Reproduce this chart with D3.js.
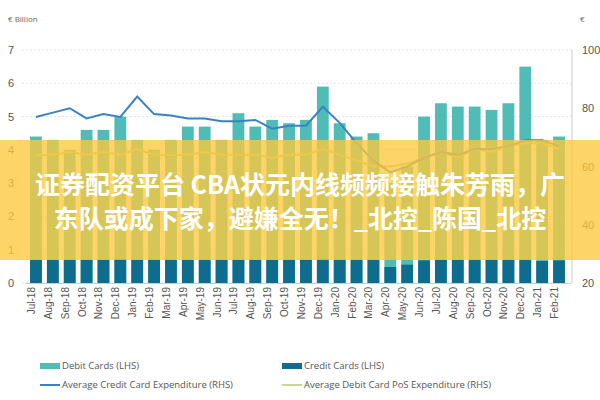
<!DOCTYPE html><html><head><meta charset="utf-8"><script src="https://cdn.jsdelivr.net/npm/d3@7"></script>
<style>body{margin:0;background:#fff}svg{font-family:"Open Sans",sans-serif}</style></head><body><svg id="c" width="600" height="400"></svg>
<script>
const months=["Jul-18","Aug-18","Sep-18","Oct-18","Nov-18","Dec-18","Jan-19","Feb-19","Mar-19","Apr-19","May-19","Jun-19","Jul-19","Aug-19","Sep-19","Oct-19","Nov-19","Dec-19","Jan-20","Feb-20","Mar-20","Apr-20","May-20","Jun-20","Jul-20","Aug-20","Sep-20","Oct-20","Nov-20","Dec-20","Jan-21","Feb-21"];
const debitCards=[4.4,4.3,4.0,4.6,4.6,5.0,4.3,4.0,4.3,4.7,4.7,4.3,5.1,4.7,4.9,4.8,4.9,5.9,4.8,4.4,4.5,3.0,3.5,5.0,5.4,5.3,5.3,5.2,5.4,6.5,4.3,4.4];
const creditCards=[0.7,0.7,0.7,0.7,0.7,0.72,0.7,0.7,0.7,0.7,0.7,0.7,0.7,0.7,0.7,0.7,0.7,0.72,0.7,0.7,0.7,0.48,0.55,0.68,0.7,0.7,0.7,0.7,0.7,0.7,0.66,0.68];
const avgCredit=[77,78.5,80,76.5,78,77,84,78,77.5,76.5,76.5,75.5,75.5,76,73,74,74,80.5,75,68,62,58,60,63,65,64,66,66,67,69,69,67];
const avgDebit=[64,64,65,64,65,64,66,64,64,64,65,64,64,64,63,64,64,66,64,62,60,60,61,63,65,63,66,65,67,68,68,66];
const leftTicks=[0,1,2,3,4,5,6,7];
const rightTicks=[20,40,60,80,100];
const svg=d3.select("#c");
const m={l:22,r:30,t:50,b:283};
const x=d3.scaleBand().domain(months).range([m.l+3,570]).padding(0.3);
const yL=d3.scaleLinear().domain([0,7]).range([m.b,m.t]);
const yR=d3.scaleLinear().domain([20,100]).range([m.b,m.t]);
const g=svg.append("g");
leftTicks.forEach(t=>{g.append("line").attr("x1",22).attr("x2",572).attr("y1",yL(t)).attr("y2",yL(t)).attr("stroke","#e6e6e6").attr("stroke-dasharray","2,2");});
const ax=svg.append("g").attr("transform",`translate(18,0)`).call(d3.axisLeft(yL).tickValues(leftTicks).tickFormat(d3.format("d")).tickSize(0).tickPadding(4));
const ar=svg.append("g").attr("transform",`translate(576,0)`).call(d3.axisRight(yR).tickValues(rightTicks).tickSize(0).tickPadding(6));
[ax,ar].forEach(a=>{a.select(".domain").remove();a.selectAll("text").attr("fill","#555").attr("font-size",11);});
svg.append("line").attr("x1",572).attr("x2",572).attr("y1",m.t).attr("y2",m.b).attr("stroke","#ccc");
svg.append("text").attr("x",8).attr("y",22).text("€ Billion").attr("font-size",8).attr("fill","#666");
svg.append("text").attr("x",580).attr("y",22).text("€").attr("font-size",8).attr("fill","#666");
g.selectAll(".d").data(months).join("rect").attr("x",d=>x(d)).attr("width",x.bandwidth()).attr("y",(d,i)=>yL(debitCards[i])).attr("height",(d,i)=>yL(0)-yL(debitCards[i])).attr("fill","#4fbdb5");
g.selectAll(".c").data(months).join("rect").attr("x",d=>x(d)).attr("width",x.bandwidth()).attr("y",(d,i)=>yL(creditCards[i])).attr("height",(d,i)=>yL(0)-yL(creditCards[i])).attr("fill","#0e6d8e");
const cx=d=>x(d)+x.bandwidth()/2;
svg.append("path").datum(months).attr("d",d3.line().x(cx).y((d,i)=>yR(avgDebit[i]))).attr("fill","none").attr("stroke","#b8c978").attr("stroke-width",2);
svg.append("path").datum(months).attr("d",d3.line().x(cx).y((d,i)=>yR(avgCredit[i]))).attr("fill","none").attr("stroke","#3b82c4").attr("stroke-width",2);
const xa=svg.append("g").attr("transform",`translate(0,${m.b})`).call(d3.axisBottom(x).tickSize(0).tickPadding(4));
xa.select(".domain").attr("stroke","#ccc");
xa.selectAll("text").attr("transform","rotate(-90)").attr("text-anchor","end").attr("dx","-4").attr("dy","-0.5em").attr("font-size",10).attr("fill","#555");
const lg=[["Debit Cards (LHS)","#4fbdb5","rect",40,366],["Credit Cards (LHS)","#0e6d8e","rect",282,366],["Average Credit Card Expenditure (RHS)","#3b82c4","line",40,385],["Average Debit Card PoS Expenditure (RHS)","#c8d890","line",282,385]];
lg.forEach(([t,c,k,lx,ly])=>{if(k=="rect")svg.append("rect").attr("x",lx).attr("y",ly-3).attr("width",20).attr("height",6).attr("fill",c);else svg.append("line").attr("x1",lx).attr("x2",lx+20).attr("y1",ly).attr("y2",ly).attr("stroke",c).attr("stroke-width",2);svg.append("text").attr("x",lx+22).attr("y",ly+3).text(t).attr("font-size",9.5).attr("fill","#555");});
svg.append("rect").attr("x",0).attr("y",140).attr("width",600).attr("height",120).attr("fill","rgba(253,200,60,0.78)");
const bt=svg.append("g").attr("font-family","'Noto Sans CJK SC',sans-serif").attr("font-size",25).attr("font-weight","bold").attr("fill","#fff").attr("text-anchor","middle");
bt.append("text").attr("x",300).attr("y",194).text("证券配资平台  CBA状元内线频频接触朱芳雨，广");
bt.append("text").attr("x",300).attr("y",228).text("东队或成下家，避嫌全无！_北控_陈国_北控");
</script></body></html>
